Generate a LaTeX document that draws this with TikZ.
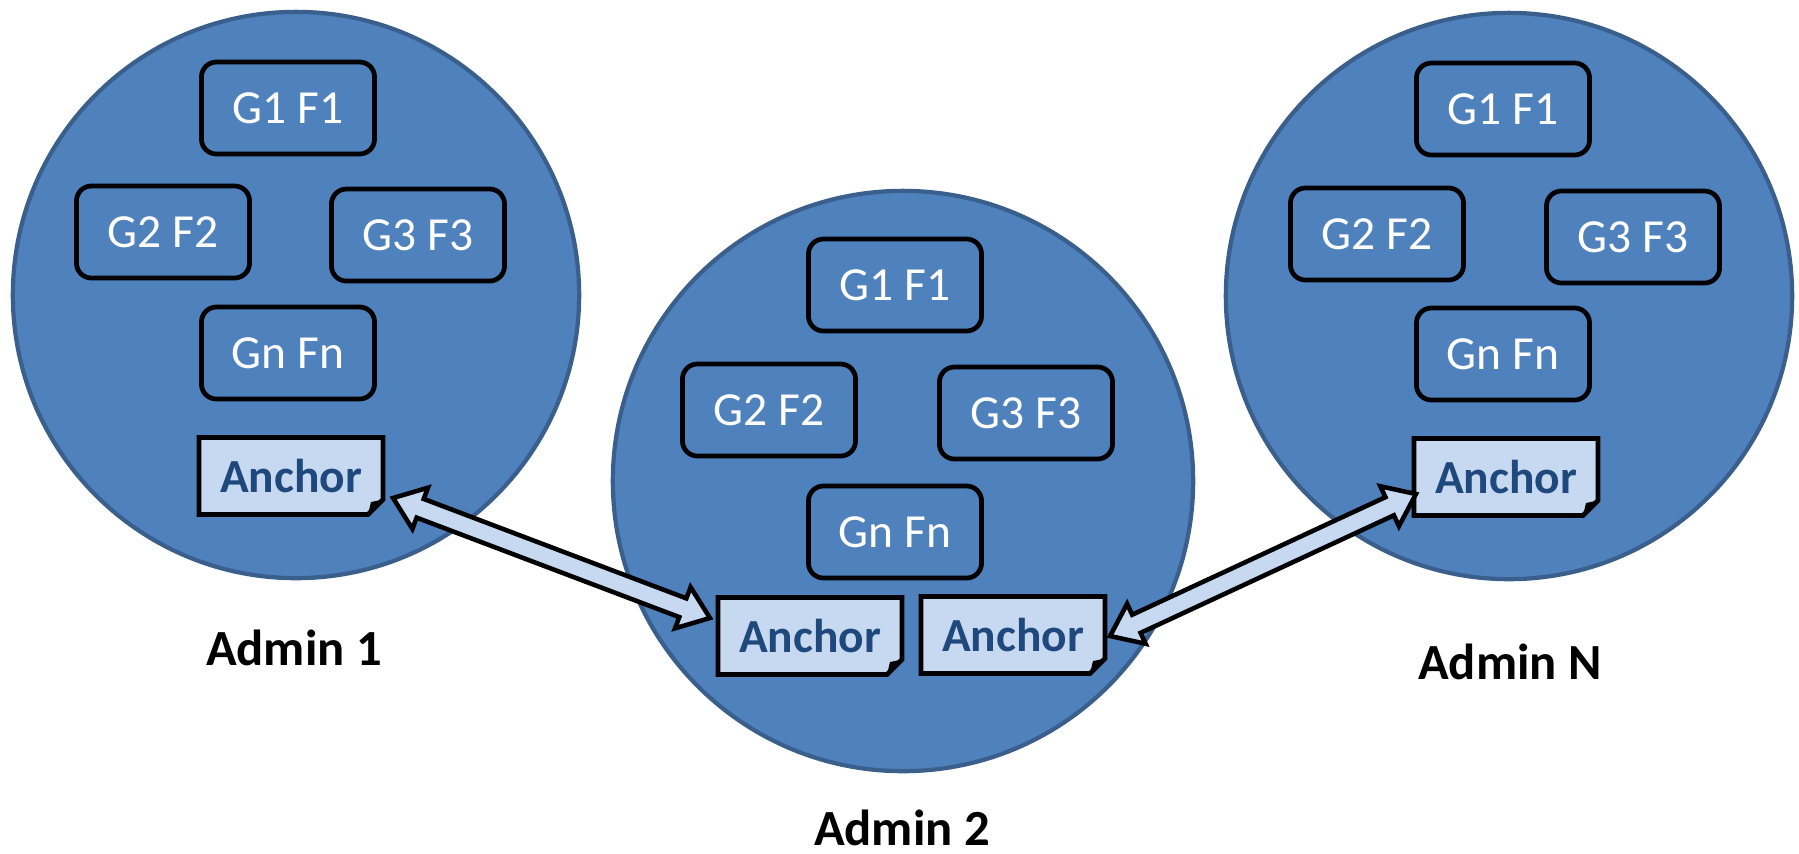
\documentclass[tikz,border=0pt]{standalone}
\usepackage{fontspec}
\setmainfont{Carlito}
\usetikzlibrary{calc}
\definecolor{cfill}{HTML}{4F81BD}
\definecolor{cline}{HTML}{3A5F8C}
\definecolor{afill}{HTML}{C6D9F1}
\definecolor{atext}{HTML}{1F497D}
\newcommand\anchorbox[3]{%
  \draw[edgeline, fill=afill] (#2-92,#3-38.5) -- (#2+92,#3-38.5) -- (#2+92,#3+23.5) -- (#2+77,#3+38.5) -- (#2-92,#3+38.5) -- cycle;
  \fill[black] (#2+92,#3+23.5) -- (#2+80,#3+26) -- (#2+77,#3+38.5) -- cycle;
  \node[anc] (#1) at (#2,#3) {Anchor};}
\newcommand\dblarrow[2]{%
  \draw[arr] (#1) -- ($(#1)!0.29cm!(#2)!0.22cm!90:(#2)$) -- ($(#1)!0.29cm!(#2)!0.1cm!90:(#2)$)
    -- ($(#2)!0.29cm!(#1)!0.1cm!-90:(#1)$) -- ($(#2)!0.29cm!(#1)!0.22cm!-90:(#1)$) -- (#2)
    -- ($(#2)!0.29cm!(#1)!0.22cm!90:(#1)$) -- ($(#2)!0.29cm!(#1)!0.1cm!90:(#1)$)
    -- ($(#1)!0.29cm!(#2)!0.1cm!-90:(#2)$) -- ($(#1)!0.29cm!(#2)!0.22cm!-90:(#2)$) -- cycle;}
\begin{document}
\begin{tikzpicture}[x=0.01cm,y=-0.01cm,
  admin/.style={draw=cline, fill=cfill, line width=1.2pt, circle, inner sep=0pt},
  gbox/.style={draw=black, line width=1.35pt, rounded corners=0.15cm, minimum width=1.73cm, minimum height=0.92cm, text=white, font=\fontsize{13.5}{15}\selectfont, inner sep=0pt},
  anc/.style={minimum width=1.84cm, minimum height=0.77cm, outer sep=0pt, inner sep=0pt, text=atext, font=\bfseries\fontsize{13.5}{15}\selectfont},
  lbl/.style={font=\bfseries\fontsize{14.4}{16}\selectfont, text=black, inner sep=0pt},
  edgeline/.style={draw=black, line width=1.35pt, line join=miter},
  arr/.style={fill=afill, draw=black, line width=1.3pt, line join=miter}]
\useasboundingbox (0,0) rectangle (1799,853);
% admin circles
\node[admin, minimum size=5.66cm] (c1) at (296,295) {};
\node[admin, minimum size=5.80cm] (c2) at (903,481) {};
\node[admin, minimum size=5.66cm] (c3) at (1509,296) {};
% circle 1 boxes
\node[gbox] (g11) at (288,108) {G1 F1};
\node[gbox] (g12) at (163,232) {G2 F2};
\node[gbox] (g13) at (418,235) {G3 F3};
\node[gbox] (g1n) at (288,353) {Gn Fn};
\anchorbox{a1}{291}{476}
% circle 2 boxes
\node[gbox] (g21) at (895,285) {G1 F1};
\node[gbox] (g22) at (769,410) {G2 F2};
\node[gbox] (g23) at (1026,413) {G3 F3};
\node[gbox] (g2n) at (895,532) {Gn Fn};
\anchorbox{a2}{810}{636}
\anchorbox{a3}{1013}{635}
% circle 3 boxes
\node[gbox] (g31) at (1503,109) {G1 F1};
\node[gbox] (g32) at (1377,234) {G2 F2};
\node[gbox] (g33) at (1633,237) {G3 F3};
\node[gbox] (g3n) at (1503,354) {Gn Fn};
\anchorbox{a4}{1506}{477}
% labels
\node[lbl] (l1) at (294,648) {Admin 1};
\node[lbl] (l2) at (902,828) {Admin 2};
\node[lbl] (l3) at (1510,662) {Admin N};
% arrows
\coordinate (t1a) at ($(a1.east)+(10,22)$);
\coordinate (t1b) at ($(a2.west)+(-8,-18)$);
\coordinate (t2a) at ($(a3.east)+(5,1)$);
\coordinate (t2b) at ($(a4.west)+(2,17)$);
\dblarrow{t1a}{t1b}
\dblarrow{t2a}{t2b}
\end{tikzpicture}
\end{document}
